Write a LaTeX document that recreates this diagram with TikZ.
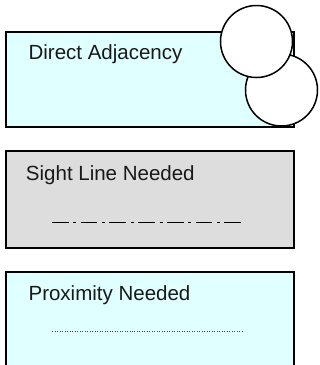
\documentclass[tikz,border=0pt]{standalone}
\usepackage{fontspec}
\setmainfont{Liberation Sans}
\definecolor{boxcyan}{RGB}{224,255,255}
\definecolor{boxgray}{RGB}{221,221,221}
\begin{document}
\begin{tikzpicture}[x=1pt,y=-1pt,
  legendbox/.style={draw=black, line width=2pt, anchor=north west, minimum width=288pt, inner sep=0pt},
  legendtext/.style={anchor=base west, inner sep=0pt, font=\fontsize{20.5pt}{24pt}\selectfont, text=black!90},
  ringnode/.style={circle, draw=black, line width=1.5pt, fill=white, minimum size=72pt, inner sep=0pt},
  sightline/.style={line width=1.3pt, dash pattern=on 16.7pt off 4.7pt on 3pt off 4.3pt},
  proxline/.style={line width=0.8pt, black!75, dash pattern=on 0.9pt off 1.6pt}]
\clip (0,0) rectangle (320,365);
\fill[white] (0,0) rectangle (320,365);
% Box 1: Direct Adjacency
\node[legendbox, fill=boxcyan, minimum height=95pt] (box1) at (5,31) {};
\node[legendtext] (t1) at (28.4,59.3) {Direct Adjacency};
\node[ringnode] (ring2) at (281.5,90) {};
\node[ringnode] (ring1) at (256.5,41.5) {};
% Box 2: Sight Line Needed
\node[legendbox, fill=boxgray, minimum height=97pt] (box2) at (5,150) {};
\node[legendtext] (t2) at (25.8,180.7) {Sight Line Needed};
\coordinate (s1) at (52,222.7);
\coordinate (s2) at (241,222.7);
\draw[sightline] (s1) -- (s2);
% Box 3: Proximity Needed
\node[legendbox, fill=boxcyan, minimum height=100pt] (box3) at (5,271) {};
\node[legendtext] (t3) at (28.4,300) {Proximity Needed};
\coordinate (p1) at (52,331.5);
\coordinate (p2) at (243,331.5);
\draw[proxline] (p1) -- (p2);
\end{tikzpicture}
\end{document}
